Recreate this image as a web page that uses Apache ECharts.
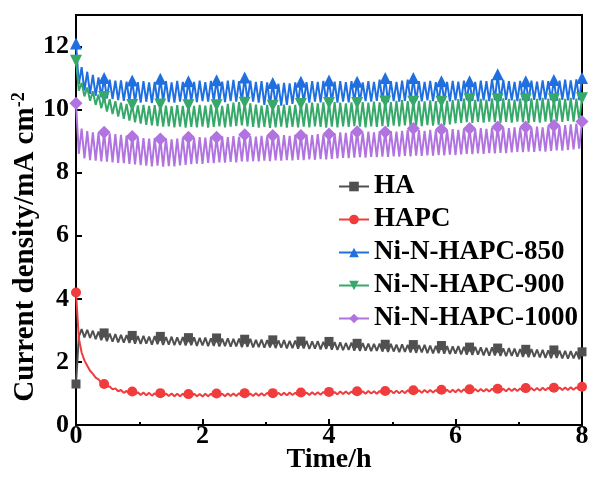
<!DOCTYPE html>
<html>
<head>
<meta charset="utf-8">
<script src="https://cdn.jsdelivr.net/npm/echarts@6/dist/echarts.min.js"></script>
<style>
  html, body { margin: 0; padding: 0; background: #fff; }
  #main { width: 592px; height: 479px; }
</style>
</head>
<body>
<div id="main"></div>
<script>
// legend names
var names = ['HA', 'HAPC', 'Ni-N-HAPC-850', 'Ni-N-HAPC-900', 'Ni-N-HAPC-1000'];
var colors = ['#505050', '#f03c3c', '#1f6fe0', '#36a96a', '#b073df'];
var xTicks = [0, 2, 4, 6, 8];

// readings sampled every 8/180 h; "even" = points 0,2,4..180, "odd" = points 1,3..179
var haEven = [
  1.30, 3.04, 3.02, 2.99, 2.96, 2.92, 2.90, 2.88, 2.86, 2.85,
  2.84, 2.82, 2.83, 2.80, 2.82, 2.81, 2.79, 2.80, 2.78, 2.79,
  2.77, 2.78, 2.76, 2.77, 2.75, 2.76, 2.74, 2.75, 2.73, 2.74,
  2.72, 2.73, 2.70, 2.71, 2.69, 2.70, 2.68, 2.69, 2.67, 2.68,
  2.66, 2.67, 2.65, 2.66, 2.64, 2.65, 2.63, 2.62, 2.60, 2.61,
  2.59, 2.60, 2.58, 2.57, 2.58, 2.56, 2.57, 2.55, 2.56, 2.54,
  2.55, 2.53, 2.54, 2.52, 2.51, 2.52, 2.50, 2.49, 2.50, 2.48,
  2.47, 2.48, 2.46, 2.45, 2.46, 2.44, 2.43, 2.44, 2.42, 2.41,
  2.40, 2.41, 2.39, 2.38, 2.37, 2.38, 2.36, 2.35, 2.34, 2.33,
  2.32
];
var haOdd = [
  2.80, 2.78, 2.76, 2.72, 2.69, 2.66, 2.64, 2.62, 2.61, 2.60,
  2.58, 2.57, 2.58, 2.55, 2.56, 2.54, 2.55, 2.53, 2.54, 2.52,
  2.53, 2.51, 2.52, 2.50, 2.51, 2.49, 2.50, 2.48, 2.49, 2.47,
  2.48, 2.46, 2.47, 2.45, 2.46, 2.44, 2.45, 2.43, 2.44, 2.42,
  2.43, 2.41, 2.42, 2.40, 2.41, 2.39, 2.38, 2.37, 2.38, 2.36,
  2.35, 2.36, 2.34, 2.35, 2.33, 2.32, 2.33, 2.31, 2.32, 2.30,
  2.29, 2.30, 2.28, 2.27, 2.28, 2.26, 2.25, 2.26, 2.24, 2.23,
  2.22, 2.23, 2.21, 2.20, 2.21, 2.19, 2.18, 2.19, 2.17, 2.16,
  2.15, 2.16, 2.14, 2.13, 2.12, 2.13, 2.11, 2.10, 2.11, 2.09
];

var hapcEven = [
  4.20, 2.30, 1.88, 1.62, 1.45, 1.30, 1.22, 1.16, 1.11, 1.08,
  1.06, 1.04, 1.03, 1.02, 1.01, 1.01, 1.00, 1.00, 0.99, 0.99,
  0.98, 0.99, 0.98, 0.99, 0.99, 1.00, 0.99, 1.00, 1.00, 1.01,
  1.01, 1.00, 1.01, 1.01, 1.02, 1.01, 1.02, 1.02, 1.03, 1.02,
  1.03, 1.03, 1.04, 1.04, 1.05, 1.05, 1.05, 1.06, 1.06, 1.06,
  1.07, 1.07, 1.08, 1.07, 1.08, 1.08, 1.09, 1.09, 1.09, 1.10,
  1.10, 1.10, 1.11, 1.11, 1.11, 1.12, 1.12, 1.12, 1.13, 1.13,
  1.13, 1.14, 1.14, 1.14, 1.15, 1.15, 1.15, 1.16, 1.16, 1.16,
  1.17, 1.17, 1.17, 1.18, 1.18, 1.18, 1.19, 1.19, 1.20, 1.20,
  1.21
];
var hapcOdd = [
  2.75, 2.05, 1.72, 1.50, 1.33, 1.22, 1.13, 1.07, 1.02, 0.99,
  0.97, 0.95, 0.94, 0.93, 0.93, 0.92, 0.92, 0.91, 0.91, 0.90,
  0.90, 0.91, 0.90, 0.91, 0.91, 0.92, 0.91, 0.92, 0.92, 0.93,
  0.93, 0.92, 0.93, 0.93, 0.94, 0.93, 0.94, 0.94, 0.95, 0.94,
  0.95, 0.95, 0.96, 0.96, 0.97, 0.97, 0.97, 0.98, 0.98, 0.98,
  0.99, 0.99, 1.00, 0.99, 1.00, 1.00, 1.01, 1.01, 1.01, 1.02,
  1.02, 1.02, 1.03, 1.03, 1.03, 1.04, 1.04, 1.04, 1.05, 1.05,
  1.05, 1.06, 1.06, 1.06, 1.07, 1.07, 1.07, 1.08, 1.08, 1.08,
  1.09, 1.09, 1.09, 1.10, 1.10, 1.10, 1.11, 1.11, 1.12, 1.12
];

var ni850Even = [
  12.10, 11.35, 11.20, 11.10, 11.02, 11.00, 10.95, 10.92, 10.93, 10.89,
  10.92, 10.87, 10.90, 10.86, 10.88, 10.98, 10.90, 10.86, 10.91, 10.88,
  10.90, 10.88, 10.92, 10.87, 10.91, 10.93, 10.89, 10.92, 10.94, 10.90,
  11.02, 10.92, 10.88, 10.90, 10.86, 10.84, 10.82, 10.85, 10.83, 10.86,
  10.88, 10.87, 10.90, 10.88, 10.91, 10.92, 10.89, 10.90, 10.87, 10.90,
  10.88, 10.86, 10.90, 10.88, 10.95, 11.00, 10.90, 10.88, 10.92, 10.95,
  11.00, 10.90, 10.88, 10.91, 10.87, 10.90, 10.88, 10.91, 10.89, 10.92,
  10.90, 10.88, 10.92, 10.90, 10.96, 11.12, 10.94, 10.90, 10.88, 10.91,
  10.90, 10.92, 10.89, 10.93, 10.90, 10.94, 10.92, 10.95, 10.93, 10.96,
  11.00
];
var ni850Odd = [
  10.80, 10.60, 10.50, 10.44, 10.40, 10.36, 10.33, 10.30, 10.28, 10.26,
  10.24, 10.22, 10.25, 10.21, 10.23, 10.26, 10.24, 10.22, 10.25, 10.23,
  10.26, 10.24, 10.27, 10.25, 10.28, 10.26, 10.24, 10.27, 10.25, 10.26,
  10.28, 10.25, 10.22, 10.15, 10.14, 10.16, 10.13, 10.15, 10.18, 10.22,
  10.24, 10.22, 10.25, 10.23, 10.26, 10.24, 10.22, 10.25, 10.23, 10.26,
  10.24, 10.27, 10.25, 10.28, 10.26, 10.24, 10.27, 10.25, 10.28, 10.26,
  10.28, 10.26, 10.29, 10.27, 10.25, 10.28, 10.26, 10.29, 10.27, 10.30,
  10.28, 10.26, 10.29, 10.27, 10.30, 10.28, 10.31, 10.29, 10.27, 10.30,
  10.28, 10.31, 10.29, 10.32, 10.30, 10.28, 10.31, 10.29, 10.32, 10.30
];

var ni900Even = [
  11.55, 10.85, 10.70, 10.58, 10.48, 10.40, 10.33, 10.27, 10.22, 10.18,
  10.15, 10.13, 10.15, 10.12, 10.14, 10.16, 10.13, 10.11, 10.14, 10.12,
  10.14, 10.12, 10.15, 10.13, 10.16, 10.14, 10.12, 10.18, 10.22, 10.24,
  10.22, 10.20, 10.16, 10.13, 10.15, 10.12, 10.14, 10.16, 10.13, 10.15,
  10.18, 10.20, 10.22, 10.20, 10.23, 10.21, 10.24, 10.22, 10.20, 10.23,
  10.21, 10.24, 10.22, 10.25, 10.23, 10.26, 10.24, 10.28, 10.30, 10.27,
  10.25, 10.28, 10.26, 10.29, 10.27, 10.25, 10.28, 10.30, 10.33, 10.35,
  10.33, 10.31, 10.34, 10.32, 10.35, 10.33, 10.36, 10.34, 10.32, 10.35,
  10.33, 10.36, 10.34, 10.37, 10.35, 10.33, 10.36, 10.34, 10.37, 10.35,
  10.36
];
var ni900Odd = [
  10.60, 10.42, 10.28, 10.15, 10.04, 9.94, 9.86, 9.78, 9.71, 9.65,
  9.60, 9.56, 9.52, 9.50, 9.48, 9.46, 9.47, 9.44, 9.46, 9.43,
  9.45, 9.44, 9.46, 9.43, 9.45, 9.47, 9.44, 9.46, 9.48, 9.50,
  9.47, 9.45, 9.43, 9.45, 9.42, 9.44, 9.46, 9.43, 9.45, 9.44,
  9.46, 9.44, 9.47, 9.45, 9.43, 9.46, 9.44, 9.47, 9.45, 9.48,
  9.46, 9.44, 9.47, 9.45, 9.48, 9.46, 9.49, 9.47, 9.50, 9.48,
  9.50, 9.48, 9.51, 9.49, 9.52, 9.50, 9.53, 9.56, 9.58, 9.60,
  9.58, 9.61, 9.59, 9.62, 9.60, 9.58, 9.61, 9.59, 9.62, 9.60,
  9.58, 9.61, 9.59, 9.62, 9.60, 9.63, 9.61, 9.64, 9.62, 9.65
];

var ni1000Even = [
  10.20, 9.40, 9.32, 9.28, 9.26, 9.28, 9.24, 9.22, 9.20, 9.18,
  9.15, 9.12, 9.10, 9.08, 9.10, 9.07, 9.09, 9.06, 9.08, 9.10,
  9.12, 9.10, 9.13, 9.11, 9.14, 9.12, 9.15, 9.13, 9.16, 9.14,
  9.20, 9.16, 9.14, 9.17, 9.15, 9.18, 9.16, 9.19, 9.17, 9.20,
  9.18, 9.21, 9.19, 9.22, 9.20, 9.23, 9.25, 9.28, 9.26, 9.29,
  9.30, 9.27, 9.30, 9.28, 9.31, 9.29, 9.32, 9.30, 9.33, 9.36,
  9.40, 9.35, 9.33, 9.36, 9.34, 9.37, 9.35, 9.38, 9.36, 9.39,
  9.40, 9.38, 9.41, 9.39, 9.42, 9.45, 9.43, 9.41, 9.44, 9.42,
  9.45, 9.43, 9.46, 9.44, 9.47, 9.50, 9.48, 9.51, 9.53, 9.56,
  9.62
];
var ni1000Odd = [
  8.60, 8.45, 8.40, 8.38, 8.36, 8.35, 8.33, 8.31, 8.30, 8.28,
  8.26, 8.24, 8.22, 8.20, 8.22, 8.19, 8.21, 8.20, 8.23, 8.25,
  8.27, 8.29, 8.28, 8.31, 8.30, 8.33, 8.32, 8.34, 8.33, 8.36,
  8.35, 8.37, 8.36, 8.38, 8.37, 8.39, 8.38, 8.40, 8.39, 8.41,
  8.40, 8.42, 8.41, 8.43, 8.42, 8.44, 8.45, 8.47, 8.46, 8.48,
  8.49, 8.48, 8.50, 8.49, 8.51, 8.50, 8.52, 8.51, 8.53, 8.52,
  8.54, 8.53, 8.55, 8.54, 8.56, 8.55, 8.57, 8.56, 8.58, 8.60,
  8.59, 8.61, 8.60, 8.62, 8.61, 8.63, 8.62, 8.64, 8.66, 8.65,
  8.67, 8.66, 8.68, 8.67, 8.69, 8.71, 8.70, 8.72, 8.74, 8.76
];

var step = 8 / 180;

function weave(even, odd) {
  var out = [];
  for (var i = 0; i < even.length; i++) {
    out.push([2 * i * step, even[i]]);
    if (i < odd.length) out.push([(2 * i + 1) * step, odd[i]]);
  }
  return out;
}

var font = 'Liberation Serif';
var chart = echarts.init(document.getElementById('main'));

function mkSeries(idx, even, odd, symbol, size, rotate) {
  return {
    name: names[idx],
    type: 'line',
    data: weave(even, odd),
    color: colors[idx],
    symbol: symbol,
    symbolRotate: rotate || 0,
    showAllSymbol: true,
    symbolSize: function (v, p) {
      return p.dataIndex % 10 === 0 ? size : 0;
    },
    lineStyle: { width: 2 },
    animation: false
  };
}

chart.setOption({
  animation: false,
  grid: {
    left: 76, right: 10, top: 15, bottom: 54,
    outerBoundsMode: 'none',
    containLabel: false,
    show: true, borderColor: '#000', borderWidth: 2
  },
  legend: {
    orient: 'vertical',
    left: 333,
    top: 168,
    itemWidth: 30,
    itemHeight: 12,
    itemGap: 6,
    textStyle: { fontFamily: font, fontWeight: 'bold', fontSize: 27, color: '#000' },
    data: names
  },
  xAxis: {
    type: 'value',
    min: 0, max: 8, interval: 2,
    name: 'Time/h',
    nameLocation: 'middle',
    nameGap: 21,
    nameMoveOverlap: false,
    nameTextStyle: { fontFamily: font, fontWeight: 'bold', fontSize: 28, color: '#000' },
    axisLine: { lineStyle: { color: '#000', width: 2 } },
    axisTick: { inside: true, length: 6, lineStyle: { width: 2 } },
    minorTick: { show: true, splitNumber: 2, length: 3, lineStyle: { color: '#000', width: 2 } },
    axisLabel: { fontFamily: font, fontWeight: 'bold', fontSize: 26, color: '#000', margin: -2 },
    splitLine: { show: false }
  },
  yAxis: {
    type: 'value',
    min: 0, max: 13, interval: 2,
    name: 'Current density/mA cm{sup|-2}',
    nameLocation: 'middle',
    nameGap: 34,
    nameMoveOverlap: false,
    nameTextStyle: {
      fontFamily: font, fontWeight: 'bold', fontSize: 29, color: '#000',
      padding: [0, 54, 0, 0],
      rich: { sup: { fontFamily: font, fontWeight: 'bold', fontSize: 18, verticalAlign: 'top', padding: [0, 0, 14, 0] } }
    },
    axisLine: { lineStyle: { color: '#000', width: 2 } },
    axisTick: { inside: true, length: 6, lineStyle: { width: 2 } },
    axisLabel: { fontFamily: font, fontWeight: 'bold', fontSize: 26, color: '#000', margin: 7, showMaxLabel: false },
    splitLine: { show: false }
  },
  series: [
    mkSeries(0, haEven, haOdd, 'rect', 9),
    mkSeries(1, hapcEven, hapcOdd, 'circle', 10),
    mkSeries(2, ni850Even, ni850Odd, 'triangle', 12),
    mkSeries(3, ni900Even, ni900Odd, 'triangle', 12, 180),
    mkSeries(4, ni1000Even, ni1000Odd, 'diamond', 13)
  ]
});
</script>
</body>
</html>
